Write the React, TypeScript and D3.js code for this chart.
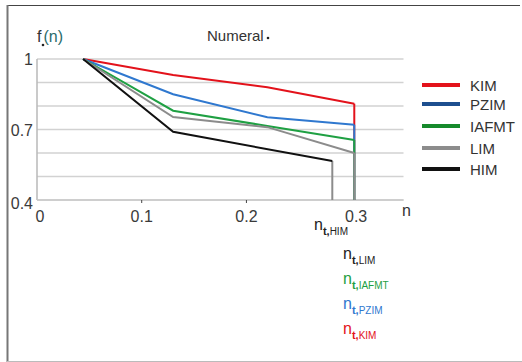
import React from 'react';
import * as d3 from 'd3';

const seriesNames = ['KIM', 'PZIM', 'IAFMT', 'LIM', 'HIM'];
const kimX = [0.044, 0.13, 0.22, 0.303];
const kimY = [1, 0.932, 0.88, 0.81];
const pzimX = [0.044, 0.13, 0.22, 0.303];
const pzimY = [1, 0.85, 0.752, 0.72];
const iafmtX = [0.044, 0.13, 0.22, 0.303];
const iafmtY = [1, 0.78, 0.715, 0.655];
const limX = [0.044, 0.13, 0.22, 0.303];
const limY = [1, 0.753, 0.71, 0.6];
const himX = [0.044, 0.13, 0.282];
const himY = [1, 0.69, 0.566];
const xTicks = [0, 0.1, 0.2, 0.3];
const yGrid = [0.4, 0.5, 0.6, 0.7, 0.8, 0.9, 1];
const yLabels = [0.4, 0.7, 1];

const lineColors = ['#e3121b', '#2f78cf', '#1fa043', '#8c8c8c', '#111111'];
const legendColors = ['#e3121b', '#1d4f8f', '#168a2c', '#8c8c8c', '#111111'];
const dropColors = ['#e3121b', '#2f78cf', '#1fa043', '#8c8c8c', '#8c8c8c'];
const ntColors = ['#e3121b', '#2f78cf', '#1fa043', '#222222', '#222222'];

const W = 522;
const H = 362;
const x = d3.scaleLinear().domain([0, 0.35]).range([37, 403.5]);
const y = d3.scaleLinear().domain([0.4, 1]).range([200, 59]);

const font = '"Liberation Sans", Arial, sans-serif';

export default function App() {
  const xsList = [kimX, pzimX, iafmtX, limX, himX];
  const ysList = [kimY, pzimY, iafmtY, limY, himY];
  const series = seriesNames.map((name, i) => ({
    name,
    points: xsList[i].map((v, j) => [v, ysList[i][j]] as [number, number]),
  }));
  const line = d3.line<[number, number]>().x(d => x(d[0])).y(d => y(d[1]));

  const legendY = [85, 104, 126, 148, 169];
  // n_t labels listed bottom to top: KIM, PZIM, IAFMT, LIM, HIM
  const ntLabelY = [334, 309, 284, 259, 230];
  const ntLabelX = [343, 343, 343, 343, 314];

  return (
    <svg width={W} height={H} style={{ position: 'absolute', left: 0, top: 0, background: '#fff' }} fontFamily={font}>
      {/* frame */}
      <line x1={7} x2={520} y1={5.5} y2={5.5} stroke="#444" strokeWidth={1} />
      <line x1={7.5} x2={7.5} y1={5} y2={362} stroke="#777" strokeWidth={2} />
      <line x1={7} x2={522} y1={361.5} y2={361.5} stroke="#bbb" strokeWidth={1} />

      {/* grid */}
      {yGrid.map(v => (
        <line key={v} x1={x(0)} x2={x(0.35)} y1={y(v)} y2={y(v)} stroke="#d2d2d2" strokeWidth={1.5} />
      ))}
      <line x1={x(0)} x2={x(0)} y1={y(1)} y2={y(0.4)} stroke="#b8b8b8" strokeWidth={1.5} />
      <line x1={x(0)} x2={x(0.35)} y1={y(0.4)} y2={y(0.4)} stroke="#c8c8c8" strokeWidth={1.5} />
      {xTicks.slice(1, 3).map(v => (
        <line key={v} x1={x(v)} x2={x(v)} y1={y(0.4)} y2={y(0.4) + 3} stroke="#444" />
      ))}

      {yLabels.map(v => (
        <text key={v} x={33} y={y(v) + (v === 0.4 ? 9 : 6)} textAnchor="end" fontSize={16} fill="#3a3a3a">
          {d3.format('~g')(v)}
        </text>
      ))}
      {xTicks.map(v => (
        <text key={v} x={x(v) + (v === 0 ? 3 : v === 0.3 ? 5 : 0)} y={222} textAnchor="middle" fontSize={16} fill="#3a3a3a">
          {d3.format('~g')(v)}
        </text>
      ))}

      {/* drops to axis */}
      {series.map((s, i) => {
        const last = s.points[s.points.length - 1];
        return (
          <line key={s.name} x1={x(last[0])} x2={x(last[0])} y1={y(last[1])} y2={y(0.4)}
            stroke={dropColors[i]} strokeWidth={2} />
        );
      })}

      {/* series */}
      {series.map((s, i) => (
        <path key={s.name} d={line(s.points) ?? ''} fill="none" stroke={lineColors[i]} strokeWidth={2} />
      ))}

      {/* titles */}
      <text x={37} y={42} fontSize={16} fill="#333">f<tspan dx={2} fill="#2a6b6b">(n)</tspan></text>
      <circle cx={43} cy={45} r={1.3} fill="#222" />
      <text x={207} y={41} fontSize={15} fill="#333">Numeral</text>
      <circle cx={268} cy={38} r={1.3} fill="#222" />
      <text x={402} y={216} fontSize={16} fill="#333">n</text>

      {/* legend */}
      {seriesNames.map((name, i) => (
        <g key={name}>
          <line x1={422} x2={460} y1={legendY[i]} y2={legendY[i]} stroke={legendColors[i]} strokeWidth={4} />
          <text x={470} y={legendY[i] + 6} fontSize={15} fill="#333">{name}</text>
        </g>
      ))}

      {/* n_t labels */}
      {seriesNames.map((name, i) => (
        <text key={name} x={ntLabelX[i]} y={ntLabelY[i]} fontSize={16} fill={ntColors[i]}>
          n<tspan fontSize={11} fontWeight="bold" dy={5}>t,</tspan><tspan fontSize={10}>{name}</tspan>
        </text>
      ))}
    </svg>
  );
}
